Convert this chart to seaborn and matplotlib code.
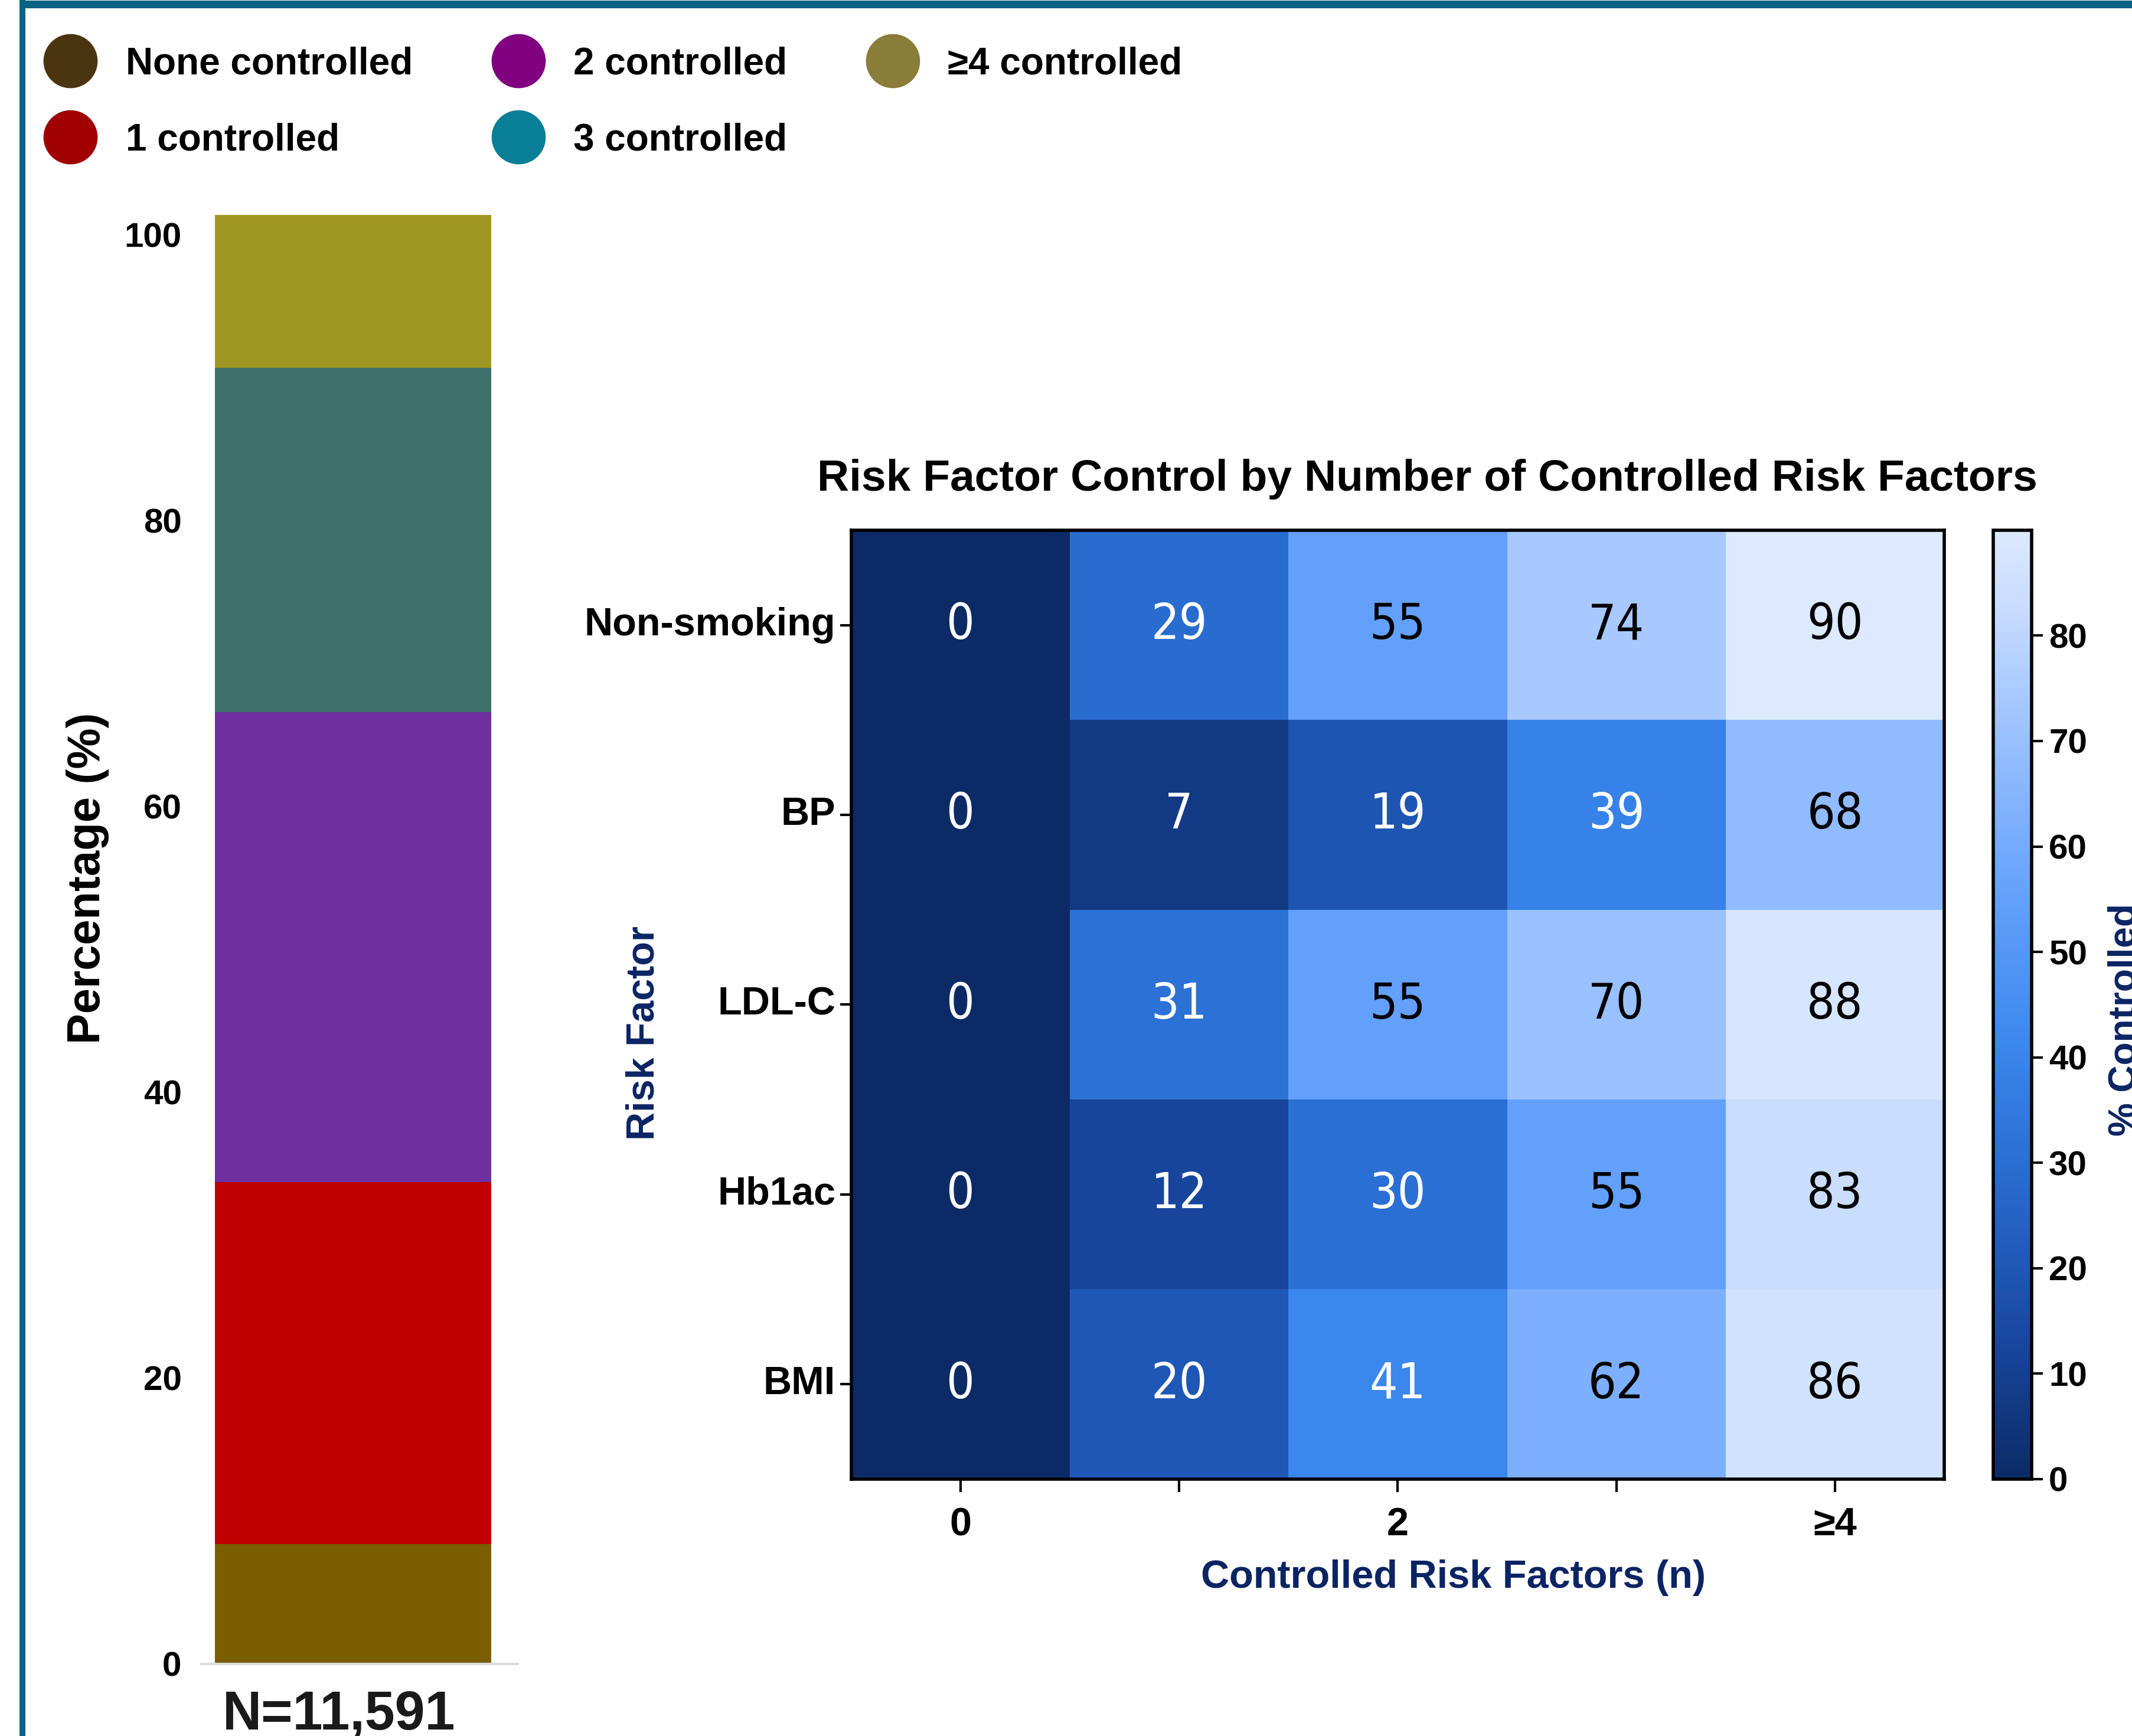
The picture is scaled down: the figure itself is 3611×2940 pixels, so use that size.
#!/usr/bin/env python3
"""Risk factor control: cohort distribution bar + heatmap by number controlled."""

import matplotlib
matplotlib.use("Agg")
import matplotlib.pyplot as plt
from matplotlib.colors import LinearSegmentedColormap
from matplotlib.lines import Line2D
import numpy as np
import pandas as pd
import seaborn as sns

# --- data -------------------------------------------------------------------
GROUPS = ["None controlled", "1 controlled", "2 controlled", "3 controlled", "\u22654 controlled"]
GROUP_PCT = [8.4, 25.3, 32.9, 24.1, 10.7]
BAR_COLORS = ["#7B5E00", "#BF0000", "#6F2F9F", "#3F706A", "#A09622"]
LEGEND_COLORS = ["#4B3410", "#A00000", "#800080", "#087F96", "#8A7D3A"]
N_LABEL = "N=11,591"

RISK_FACTORS = ["Non-smoking", "BP", "LDL-C", "Hb1ac", "BMI"]
N_CONTROLLED = ["0", "1", "2", "3", "\u22654"]
XTICK_LABELS = ["0", "", "2", "", "\u22654"]
PCT_NONSMOKING = [0, 29, 55, 74, 90]
PCT_BP = [0, 7, 19, 39, 68]
PCT_LDL = [0, 31, 55, 70, 88]
PCT_HBA1C = [0, 12, 30, 55, 83]
PCT_BMI = [0, 20, 41, 62, 86]

NAVY = "#0B2463"
FRAME = "#0A6382"

sns.set_style("white")
plt.rcParams["font.family"] = ["Liberation Sans", "DejaVu Sans"]
plt.rcParams.update({
    "font.weight": "bold",
    "text.color": "black",
    "axes.labelcolor": "black",
    "xtick.color": "black",
    "ytick.color": "black",
})

fig = plt.figure(figsize=(3611 / 200, 2940 / 200), dpi=200)

# --- outer frame (top and left edges only visible) ---------------------------
fig.add_artist(Line2D([0.0105, 1.0], [1 - 6.5 / 2940] * 2, color=FRAME, lw=4.7,
                      transform=fig.transFigure, solid_capstyle="butt"))
fig.add_artist(Line2D([0.0105, 0.0105], [0.0, 1.0], color=FRAME, lw=3.6,
                      transform=fig.transFigure, solid_capstyle="butt"))

# --- stacked bar --------------------------------------------------------------
ax_bar = fig.add_axes([0.0944, 0.0415, 0.1486, 0.8348])
bottoms = np.concatenate([[0], np.cumsum(GROUP_PCT)[:-1]])
for pct, bottom, color in zip(GROUP_PCT, bottoms, BAR_COLORS):
    ax_bar.bar(0, pct, bottom=bottom, width=1.0, color=color, linewidth=0)
ax_bar.set_xlim(-0.549, 0.597)
ax_bar.set_ylim(0, sum(GROUP_PCT))
ax_bar.set_yticks([0, 20, 40, 60, 80, 100])
ax_bar.set_xticks([])
ax_bar.tick_params(axis="y", length=0, pad=12, labelsize=21)
for lbl in ax_bar.get_yticklabels():
    lbl.set_fontweight("bold")
for side in ["left", "right", "top"]:
    ax_bar.spines[side].set_visible(False)
ax_bar.spines["bottom"].set_color("#DDDDDD")
ax_bar.spines["bottom"].set_linewidth(1.5)
ax_bar.set_ylabel("Percentage (%)", fontsize=28, fontweight="bold")
ax_bar.yaxis.set_label_coords(-0.29, 0.542)
fig.text(0.159, 0.0266, N_LABEL, ha="center", va="top", fontsize=33,
         fontweight="bold", color="#1A1A1A")

# --- legend -------------------------------------------------------------------
handles = [Line2D([], [], linestyle="none", marker="o", markersize=32,
                  markerfacecolor=c, markeredgecolor=c) for c in LEGEND_COLORS]
fig.legend(handles, GROUPS, loc="upper left", bbox_to_anchor=(0.0065, 0.993),
           ncol=3, frameon=False, prop={"size": 23, "weight": "bold"},
           handlelength=1.2, handletextpad=0.86, columnspacing=2.2,
           labelspacing=1.09)

# --- heatmap ------------------------------------------------------------------
heat_df = pd.DataFrame([PCT_NONSMOKING, PCT_BP, PCT_LDL, PCT_HBA1C, PCT_BMI],
                       index=RISK_FACTORS, columns=N_CONTROLLED)
cmap = LinearSegmentedColormap.from_list("ctrl_blues", [
    (0.00, "#0C2B66"),
    (0.13, "#17449A"),
    (0.22, "#1F57B6"),
    (0.33, "#2A6ED2"),
    (0.46, "#3B88EE"),
    (0.61, "#62A0FB"),
    (0.76, "#92BCFF"),
    (0.92, "#C8DCFF"),
    (1.00, "#DCE9FF"),
])

ax_heat = fig.add_axes([0.3992, 0.148, 0.5128, 0.5466])
cax = fig.add_axes([0.935, 0.148, 0.0179, 0.5466])
sns.heatmap(heat_df, ax=ax_heat, cbar_ax=cax, cmap=cmap, vmin=0, vmax=90,
            annot=True, fmt="d",
            annot_kws={"fontsize": 30, "family": "DejaVu Sans",
                       "fontstretch": "condensed", "fontweight": "normal"})
for text, val in zip(ax_heat.texts, heat_df.values.ravel()):
    text.set_color("white" if val < 50 else "black")

for spine in ax_heat.spines.values():
    spine.set_visible(True)
    spine.set_linewidth(2)
    spine.set_color("black")
ax_heat.set_xticklabels(XTICK_LABELS, rotation=0, fontsize=24, fontweight="bold")
ax_heat.set_yticklabels(RISK_FACTORS, rotation=0, fontsize=24, fontweight="bold")
ax_heat.tick_params(axis="x", length=8, width=1.5, pad=9, bottom=True)
ax_heat.tick_params(axis="y", length=7, width=1.5, pad=2.5, left=True)
ax_heat.set_title("Risk Factor Control by Number of Controlled Risk Factors",
                  fontsize=27, fontweight="bold", x=0.527, pad=24)
ax_heat.set_xlabel("Controlled Risk Factors (n)", fontsize=24,
                   fontweight="bold", color=NAVY)
ax_heat.xaxis.set_label_coords(0.551, -0.085)
ax_heat.set_ylabel("Risk Factor", fontsize=24, fontweight="bold", color=NAVY)
ax_heat.yaxis.set_label_coords(-0.173, 0.47)

cbar = ax_heat.collections[0].colorbar
cbar.outline.set_linewidth(2)
cbar.outline.set_edgecolor("black")
cbar.set_ticks(range(0, 90, 10))
cax.tick_params(length=7, width=1.5, labelsize=21)
for lbl in cax.get_yticklabels():
    lbl.set_fontweight("bold")
fig.text(0.9886, 0.4127, "% Controlled", rotation=90, ha="left", va="center",
         fontsize=23, fontweight="bold", color=NAVY)

fig.savefig("out.png", dpi=200)
plt.close(fig)
